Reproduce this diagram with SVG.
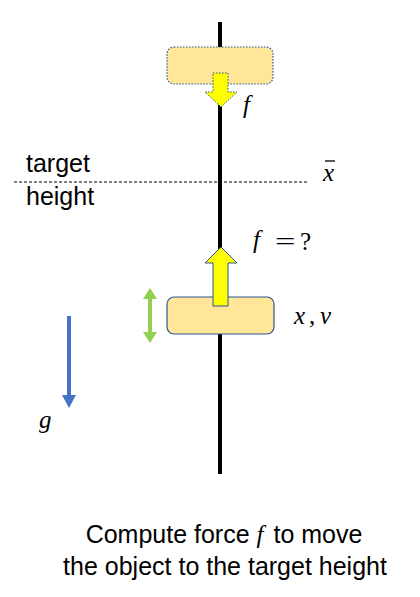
<svg xmlns="http://www.w3.org/2000/svg" width="420" height="597" viewBox="0 0 420 597">
<style>
.txt{font-family:"Liberation Sans",Arial,sans-serif;font-size:25px;fill:#000}
.math{font-family:"Liberation Serif","DejaVu Serif",serif;font-style:italic;font-size:25px;fill:#000}
.up{font-family:"Liberation Serif","DejaVu Serif",serif;font-size:25px;fill:#000}
.box{fill:#FFE699;stroke:#2F5597;stroke-width:1.2}
.arrowY{fill:#FFFF00;stroke:#2F5597;stroke-width:1}
</style>
<rect width="420" height="597" fill="#fff"/>
<g id="connectors">
<line id="rod" x1="220" y1="22" x2="220" y2="474" stroke="#000" stroke-width="4"/>
<line id="target-line" x1="14" y1="182" x2="307" y2="182" stroke="#000" stroke-width="1" stroke-dasharray="3,2"/>
</g>
<g id="target-box">
<rect class="box" x="167" y="47" width="106" height="37" rx="7" stroke-dasharray="1.5,1.5"/>
</g>
<g id="force-down">
<polygon class="arrowY" stroke-dasharray="1.5,1.5" points="213,73 228,73 228,92 237,92 221,107 205,92 213,92"/>
<text class="math" x="243" y="113">f</text>
</g>
<g id="target-label">
<text class="txt" x="26" y="172">target</text>
<text class="txt" x="26" y="205">height</text>
<text class="math" x="323" y="181">x</text>
<line x1="325" y1="161" x2="335" y2="161" stroke="#000" stroke-width="1.3"/>
</g>
<g id="object">
<rect class="box" x="167" y="297" width="107" height="37" rx="7"/>
<text class="math" x="294" y="324">x</text>
<text class="up" x="309" y="324">,</text>
<text class="math" x="320" y="324">v</text>
</g>
<g id="force-up">
<polygon class="arrowY" points="213,306 228,306 228,263 237,263 221,247 205,263 213,263"/>
<text class="math" x="253" y="248">f</text>
<text class="up" transform="translate(275,250) scale(1.45,1)">=</text>
<text class="up" x="300" y="250">?</text>
</g>
<g id="motion">
<polygon fill="#92D050" points="150,288 157,299 152,299 152,332 157,332 150,343 143,332 148,332 148,299 143,299"/>
</g>
<g id="gravity">
<polygon fill="#4472C4" points="67,316 71,316 71,395 76,395 69,408 62,395 67,395"/>
<text class="math" x="39" y="428">g</text>
</g>
<g id="caption">
<text class="txt" x="224" y="543" text-anchor="middle">Compute force <tspan class="math">f</tspan><tspan dx="3"> to move</tspan></text>
<text class="txt" x="225" y="575" text-anchor="middle">the object to the target height</text>
</g>
</svg>
